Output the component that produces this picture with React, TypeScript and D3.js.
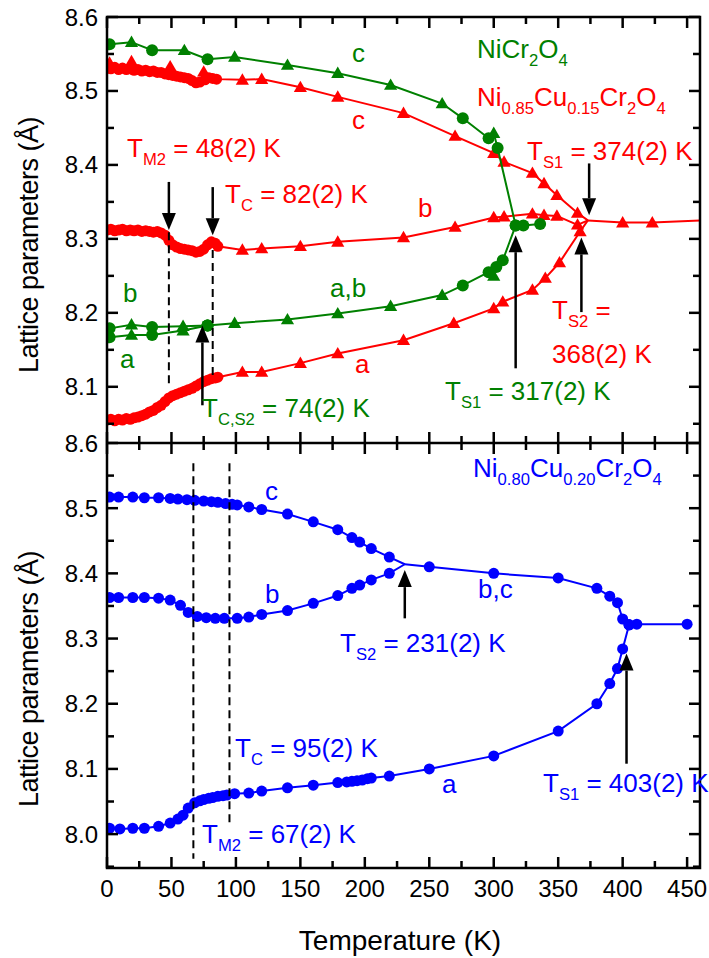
import * as d3 from 'd3';

// [temperature (K), lattice parameter (Å), marker: 'o' circle, '^' triangle, '' none]
type Pt = [number, number, string];

// ---------- NiCr2O4 (green) ----------
const niCrC: Pt[] = [
  [2, 8.563, 'o'], [19, 8.566, '^'], [35, 8.555, 'o'], [60, 8.555, '^'], [78, 8.543, 'o'],
  [99, 8.546, '^'], [140, 8.535, '^'], [179, 8.524, '^'], [220, 8.508, '^'], [260, 8.483, '^'],
  [276, 8.463, 'o'], [296, 8.436, 'o'], [300, 8.443, '^'], [303, 8.423, 'o'], [317, 8.318, ''],
];
const niCrAB: Pt[] = [
  [78, 8.183, 'o'], [99, 8.186, '^'], [140, 8.191, '^'], [179, 8.199, '^'], [220, 8.209, '^'],
  [260, 8.224, '^'], [276, 8.237, 'o'], [296, 8.255, 'o'], [300, 8.25, '^'], [302, 8.262, 'o'],
  [307, 8.271, 'o'], [317, 8.318, 'o'],
];
const niCrB: Pt[] = [[2, 8.179, 'o'], [19, 8.184, '^'], [35, 8.181, 'o'], [59, 8.182, '^'], [78, 8.183, 'o']];
const niCrA: Pt[] = [[2, 8.167, 'o'], [19, 8.17, '^'], [35, 8.17, 'o'], [59, 8.176, '^'], [78, 8.183, 'o']];
const niCrCubic: Pt[] = [[317, 8.318, 'o'], [323, 8.318, 'o'], [336, 8.32, 'o']];

// ---------- Ni0.85Cu0.15Cr2O4 (red) ----------
const cu15C: Pt[] = [
  [0, 8.531, 'o'], [2, 8.538, '^'], [3, 8.53, 'o'], [6, 8.532, 'o'], [9, 8.529, 'o'], [12, 8.531, 'o'],
  [15, 8.529, 'o'], [18, 8.53, 'o'], [19, 8.54, '^'], [21, 8.528, 'o'], [24, 8.529, 'o'], [27, 8.527, 'o'],
  [30, 8.528, 'o'], [33, 8.526, 'o'], [36, 8.527, 'o'], [39, 8.525, 'o'], [42, 8.525, 'o'], [45, 8.523, 'o'],
  [48, 8.522, 'o'], [49, 8.533, '^'], [51, 8.521, 'o'], [54, 8.52, 'o'], [57, 8.519, 'o'], [60, 8.518, 'o'],
  [63, 8.517, 'o'], [66, 8.514, 'o'], [69, 8.511, 'o'], [72, 8.512, 'o'], [75, 8.526, '^'], [76, 8.515, 'o'],
  [79, 8.518, 'o'], [82, 8.517, 'o'], [85, 8.516, 'o'],
  [105, 8.515, '^'], [120, 8.516, '^'], [150, 8.505, '^'], [179, 8.492, '^'], [230, 8.47, '^'],
  [270, 8.439, '^'], [300, 8.416, '^'], [308, 8.404, '^'], [330, 8.389, '^'], [339, 8.375, '^'],
  [349, 8.359, '^'], [365, 8.335, '^'], [373, 8.325, ''],
];
const cu15B: Pt[] = [
  [0, 8.312, 'o'], [3, 8.313, 'o'], [6, 8.311, 'o'], [9, 8.312, 'o'], [12, 8.313, 'o'], [15, 8.311, 'o'],
  [18, 8.312, 'o'], [21, 8.311, 'o'], [24, 8.312, 'o'], [27, 8.31, 'o'], [30, 8.311, 'o'], [33, 8.31, 'o'],
  [36, 8.309, 'o'], [39, 8.31, 'o'], [42, 8.308, 'o'], [45, 8.305, 'o'], [48, 8.298, 'o'], [51, 8.292, 'o'],
  [54, 8.289, 'o'], [57, 8.287, 'o'], [60, 8.286, 'o'], [63, 8.285, 'o'], [66, 8.284, 'o'], [69, 8.282, 'o'],
  [72, 8.283, 'o'], [75, 8.286, 'o'], [78, 8.292, 'o'], [81, 8.296, 'o'], [84, 8.294, 'o'], [86, 8.29, 'o'],
  [105, 8.285, '^'], [120, 8.287, '^'], [150, 8.29, '^'], [179, 8.296, '^'], [230, 8.302, '^'],
  [270, 8.316, '^'], [300, 8.329, '^'], [308, 8.33, '^'], [330, 8.334, '^'], [339, 8.332, '^'],
  [349, 8.331, '^'], [365, 8.319, '^'], [373, 8.325, ''],
];
const cu15A: Pt[] = [
  [0, 8.055, 'o'], [3, 8.056, 'o'], [6, 8.054, 'o'], [9, 8.056, 'o'], [12, 8.055, 'o'], [15, 8.057, 'o'],
  [18, 8.056, 'o'], [21, 8.058, 'o'], [24, 8.059, 'o'], [27, 8.061, 'o'], [30, 8.063, 'o'], [33, 8.066, 'o'],
  [36, 8.068, 'o'], [39, 8.072, 'o'], [42, 8.075, 'o'], [45, 8.08, 'o'], [48, 8.085, 'o'], [51, 8.088, 'o'],
  [54, 8.09, 'o'], [57, 8.092, 'o'], [60, 8.094, 'o'], [63, 8.096, 'o'], [66, 8.098, 'o'], [69, 8.101, 'o'],
  [72, 8.104, 'o'], [75, 8.107, 'o'], [78, 8.109, 'o'], [81, 8.111, 'o'], [84, 8.112, 'o'], [86, 8.113, 'o'],
  [105, 8.12, '^'], [120, 8.12, '^'], [150, 8.132, '^'], [179, 8.145, '^'], [230, 8.163, '^'],
  [269, 8.186, '^'], [300, 8.206, '^'], [307, 8.215, '^'], [330, 8.231, '^'], [340, 8.247, '^'],
  [351, 8.268, '^'], [367, 8.31, '^'], [373, 8.325, ''],
];
const cu15Cubic: Pt[] = [[373, 8.325, ''], [400, 8.322, '^'], [423, 8.322, '^'], [460, 8.325, '']];

// ---------- Ni0.80Cu0.20Cr2O4 (blue) ----------
const cu20C: Pt[] = [
  [2, 8.517, 'o'], [9, 8.517, 'o'], [20, 8.517, 'o'], [29, 8.516, 'o'], [40, 8.516, 'o'], [49, 8.515, 'o'],
  [55, 8.514, 'o'], [62, 8.513, 'o'], [68, 8.512, 'o'], [75, 8.511, 'o'], [81, 8.51, 'o'], [86, 8.509, 'o'],
  [92, 8.507, 'o'], [97, 8.506, 'o'], [101, 8.505, 'o'], [110, 8.502, 'o'], [120, 8.498, 'o'],
  [140, 8.491, 'o'], [160, 8.479, 'o'], [179, 8.467, 'o'], [190, 8.455, 'o'], [196, 8.448, 'o'],
  [205, 8.438, 'o'], [219, 8.425, 'o'], [231, 8.414, ''],
];
const cu20B: Pt[] = [
  [2, 8.363, 'o'], [9, 8.363, 'o'], [20, 8.363, 'o'], [29, 8.363, 'o'], [40, 8.362, 'o'], [49, 8.359, 'o'],
  [57, 8.351, 'o'], [63, 8.34, 'o'], [70, 8.334, 'o'], [77, 8.332, 'o'], [84, 8.331, 'o'], [91, 8.331, 'o'],
  [101, 8.331, 'o'], [110, 8.333, 'o'], [120, 8.337, 'o'], [140, 8.343, 'o'], [160, 8.354, 'o'],
  [179, 8.366, 'o'], [190, 8.377, 'o'], [196, 8.382, 'o'], [205, 8.39, 'o'], [219, 8.4, 'o'], [231, 8.414, ''],
];
const cu20BC: Pt[] = [
  [231, 8.414, ''], [250, 8.41, 'o'], [300, 8.4, 'o'], [350, 8.393, 'o'], [380, 8.377, 'o'],
  [390, 8.365, 'o'], [396, 8.355, 'o'], [400, 8.33, 'o'], [405, 8.321, 'o'],
];
const cu20A: Pt[] = [
  [2, 8.009, 'o'], [10, 8.008, 'o'], [20, 8.009, 'o'], [29, 8.009, 'o'], [40, 8.012, 'o'], [49, 8.017, 'o'],
  [55, 8.023, 'o'], [59, 8.029, 'o'], [63, 8.04, 'o'], [68, 8.048, 'o'], [72, 8.051, 'o'], [75, 8.053, 'o'],
  [79, 8.055, 'o'], [82, 8.056, 'o'], [86, 8.058, 'o'], [90, 8.059, 'o'], [93, 8.06, 'o'], [99, 8.062, 'o'],
  [110, 8.063, 'o'], [120, 8.066, 'o'], [140, 8.071, 'o'], [160, 8.075, 'o'], [179, 8.079, 'o'],
  [186, 8.08, 'o'], [190, 8.081, 'o'], [194, 8.082, 'o'], [198, 8.083, 'o'], [202, 8.085, 'o'],
  [205, 8.086, 'o'], [219, 8.089, 'o'], [250, 8.1, 'o'], [300, 8.12, 'o'], [350, 8.158, 'o'],
  [380, 8.2, 'o'], [390, 8.231, 'o'], [396, 8.254, 'o'], [400, 8.284, 'o'], [405, 8.321, 'o'],
];
const cu20Cubic: Pt[] = [[405, 8.321, 'o'], [411, 8.322, 'o'], [450, 8.322, 'o']];

// transition arrows: [T, tail value, tip value]
const topArrows: [number, number, number][] = [
  [48, 8.377, 8.312], [82, 8.37, 8.305], [74, 8.075, 8.183],
  [374, 8.402, 8.332], [368, 8.201, 8.302], [317, 8.125, 8.305],
];
const botArrows: [number, number, number][] = [[231, 8.331, 8.405], [403, 8.108, 8.277]];
// dashed guide lines: [T, from, to]
const topDashes: [number, number, number][] = [[48, 8.309, 8.102], [82, 8.285, 8.113]];
const botDashes: [number, number, number][] = [[67, 8.569, 7.962], [95, 8.569, 8.017]];

const xTicks = d3.range(0, 451, 50);
const xMinor = d3.range(25, 451, 50);
const topTicks = d3.range(81, 87).map(d => d / 10);
const topMinor = d3.range(805, 860, 10).map(d => d / 100);
const botTicks = d3.range(80, 87).map(d => d / 10);
const botMinor = d3.range(795, 860, 10).map(d => d / 100);

const FONT = '"Liberation Sans", Arial, Helvetica, sans-serif';
const GREEN = '#008000';
const RED = '#ff0000';
const BLUE = '#0000ff';
const L = 107, R = 700, T0 = 17, MID = 443, B = 868;

const x = d3.scaleLinear().domain([0, 460]).range([L, R]);
const yTop = d3.scaleLinear().domain([8.024, 8.6]).range([MID, T0]);
const yBot = d3.scaleLinear().domain([7.948, 8.6]).range([B, MID]);

const tri = d3.symbol(d3.symbolTriangle, 75)();

function Series({ pts, y, color, r = 6 }: { pts: Pt[]; y: d3.ScaleLinear<number, number>; color: string; r?: number }) {
  const line = d3.line<Pt>().x(d => x(d[0])).y(d => y(d[1]));
  return (
    <g>
      <path d={line(pts) || ''} fill="none" stroke={color} strokeWidth={2} />
      {pts.map((d, i) =>
        d[2] === 'o' ? <circle key={i} cx={x(d[0])} cy={y(d[1])} r={r} fill={color} />
          : d[2] === '^' ? <path key={i} d={tri || ''} transform={`translate(${x(d[0])},${y(d[1]) + 1})`} fill={color} />
            : null)}
    </g>
  );
}

function Arrow({ t, v0, v1, y }: { t: number; v0: number; v1: number; y: d3.ScaleLinear<number, number> }) {
  const px = x(t), a = y(v0), b = y(v1);
  const dir = b > a ? 1 : -1;
  const hl = 17, hw = 7;
  return (
    <g>
      <line x1={px} y1={a} x2={px} y2={b - dir * hl} stroke="#000" strokeWidth={2.5} />
      <path d={`M${px},${b} L${px - hw},${b - dir * hl} L${px + hw},${b - dir * hl} Z`} fill="#000" />
    </g>
  );
}

function Rich({ x: px, y: py, s, fill, size = 26 }: { x: number; y: number; s: string; fill: string; size?: number }) {
  const parts = s.split(/(_\{[^}]*\})/).filter(p => p.length);
  const shift = size * 0.3;
  let down = false;
  return (
    <text x={px} y={py} fill={fill} fontSize={size} fontFamily={FONT}>
      {parts.map((p, i) => {
        const sub = p.startsWith('_{');
        let dy = 0;
        if (sub && !down) { dy = shift; down = true; } else if (!sub && down) { dy = -shift; down = false; }
        return <tspan key={i} dy={dy} fontSize={sub ? size * 0.64 : size}>{sub ? p.slice(2, -1) : p}</tspan>;
      })}
    </text>
  );
}

function YAxis({ y, major, minor, labels }: { y: d3.ScaleLinear<number, number>; major: number[]; minor: number[]; labels: number[] }) {
  return (
    <g stroke="#000" strokeWidth={2.5}>
      {major.map(v => <g key={'M' + v}><line x1={L} x2={L + 11} y1={y(v)} y2={y(v)} /><line x1={R} x2={R - 11} y1={y(v)} y2={y(v)} /></g>)}
      {minor.map(v => <g key={'m' + v}><line x1={L} x2={L + 7} y1={y(v)} y2={y(v)} /><line x1={R} x2={R - 7} y1={y(v)} y2={y(v)} /></g>)}
      {labels.map(v => (
        <text key={'t' + v} x={L - 9} y={y(v) + 8.5} textAnchor="end" fontSize={24} fontFamily={FONT} fill="#000" stroke="none">
          {d3.format('.1f')(v)}
        </text>
      ))}
    </g>
  );
}

export default function App() {
  return (
    <svg width={709} height={958} style={{ position: 'absolute', left: 0, top: 0, background: '#fff' }}>
      <defs>
        <clipPath id="cTop"><rect x={L} y={T0} width={R - L} height={MID - T0} /></clipPath>
        <clipPath id="cBot"><rect x={L} y={MID} width={R - L} height={B - MID} /></clipPath>
      </defs>

      {/* top panel data */}
      <g clipPath="url(#cTop)">
        <Series pts={cu15C} y={yTop} color={RED} r={5.5} />
        <Series pts={cu15B} y={yTop} color={RED} r={5.5} />
        <Series pts={cu15A} y={yTop} color={RED} r={5.5} />
        <Series pts={cu15Cubic} y={yTop} color={RED} />
        <Series pts={niCrC} y={yTop} color={GREEN} />
        <Series pts={niCrAB} y={yTop} color={GREEN} />
        <Series pts={niCrB} y={yTop} color={GREEN} />
        <Series pts={niCrA} y={yTop} color={GREEN} />
        <Series pts={niCrCubic} y={yTop} color={GREEN} />
      </g>

      {/* bottom panel data */}
      <g clipPath="url(#cBot)">
        <Series pts={cu20C} y={yBot} color={BLUE} r={5.5} />
        <Series pts={cu20B} y={yBot} color={BLUE} r={5.5} />
        <Series pts={cu20BC} y={yBot} color={BLUE} r={5.5} />
        <Series pts={cu20A} y={yBot} color={BLUE} r={5.5} />
        <Series pts={cu20Cubic} y={yBot} color={BLUE} r={5.5} />
      </g>

      {/* dashed guides */}
      <g stroke="#000" strokeWidth={2} strokeDasharray="8,5">
        {topDashes.map(([t, a, b]) => <line key={'td' + t} x1={x(t)} x2={x(t)} y1={yTop(a)} y2={yTop(b)} />)}
        {botDashes.map(([t, a, b]) => <line key={'bd' + t} x1={x(t)} x2={x(t)} y1={yBot(a)} y2={yBot(b)} />)}
      </g>

      {topArrows.map(([t, a, b]) => <Arrow key={'ta' + t} t={t} v0={a} v1={b} y={yTop} />)}
      {botArrows.map(([t, a, b]) => <Arrow key={'ba' + t} t={t} v0={a} v1={b} y={yBot} />)}

      {/* axes */}
      <YAxis y={yTop} major={topTicks} minor={topMinor} labels={topTicks} />
      <YAxis y={yBot} major={botTicks} minor={botMinor} labels={botTicks} />
      <g stroke="#000" strokeWidth={2.5}>
        {xTicks.map(t => (
          <g key={'x' + t}>
            <line x1={x(t)} x2={x(t)} y1={T0} y2={T0 + 11} />
            <line x1={x(t)} x2={x(t)} y1={MID - 11} y2={MID + 11} />
            <line x1={x(t)} x2={x(t)} y1={B} y2={B - 11} />
          </g>
        ))}
        {xMinor.map(t => (
          <g key={'xm' + t}>
            <line x1={x(t)} x2={x(t)} y1={T0} y2={T0 + 7} />
            <line x1={x(t)} x2={x(t)} y1={MID - 7} y2={MID + 7} />
            <line x1={x(t)} x2={x(t)} y1={B} y2={B - 7} />
          </g>
        ))}
        <rect x={L} y={T0} width={R - L} height={B - T0} fill="none" />
        <line x1={L} x2={R} y1={MID} y2={MID} />
      </g>
      {xTicks.map(t => (
        <text key={'xl' + t} x={x(t)} y={B + 29} textAnchor="middle" fontSize={24} fontFamily={FONT}>{t}</text>
      ))}
      <text x={400} y={950} textAnchor="middle" fontSize={28} fontFamily={FONT}>Temperature (K)</text>
      <text transform="translate(38,245) rotate(-90)" textAnchor="middle" fontSize={27} fontFamily={FONT} letterSpacing={-0.5}>Lattice parameters (Å)</text>
      <text transform="translate(38,679) rotate(-90)" textAnchor="middle" fontSize={27} fontFamily={FONT} letterSpacing={-0.5}>Lattice parameters (Å)</text>

      {/* top annotations */}
      <Rich x={352} y={62} s="c" fill={GREEN} />
      <Rich x={352} y={129} s="c" fill={RED} />
      <Rich x={477} y={58} s="NiCr_{2}O_{4}" fill={GREEN} />
      <Rich x={477} y={106} s="Ni_{0.85}Cu_{0.15}Cr_{2}O_{4}" fill={RED} />
      <Rich x={127} y={157} s="T_{M2} = 48(2) K" fill={RED} />
      <Rich x={225} y={203} s="T_{C} = 82(2) K" fill={RED} />
      <Rich x={527} y={160} s="T_{S1} = 374(2) K" fill={RED} />
      <Rich x={418} y={217} s="b" fill={RED} />
      <Rich x={123} y={302} s="b" fill={GREEN} />
      <Rich x={120} y={368} s="a" fill={GREEN} />
      <Rich x={330} y={297} s="a,b" fill={GREEN} />
      <Rich x={355} y={373} s="a" fill={RED} />
      <Rich x={202} y={417} s="T_{C,S2} = 74(2) K" fill={GREEN} />
      <Rich x={552} y={319} s="T_{S2} =" fill={RED} />
      <Rich x={552} y={363} s="368(2) K" fill={RED} />
      <Rich x={445} y={400} s="T_{S1} = 317(2) K" fill={GREEN} />

      {/* bottom annotations */}
      <Rich x={473} y={477} s="Ni_{0.80}Cu_{0.20}Cr_{2}O_{4}" fill={BLUE} />
      <Rich x={265} y={500} s="c" fill={BLUE} />
      <Rich x={265} y={603} s="b" fill={BLUE} />
      <Rich x={340} y={652} s="T_{S2} = 231(2) K" fill={BLUE} />
      <Rich x={478} y={598} s="b,c" fill={BLUE} />
      <Rich x={235} y={757} s="T_{C} = 95(2) K" fill={BLUE} />
      <Rich x={202} y={843} s="T_{M2} = 67(2) K" fill={BLUE} />
      <Rich x={442} y={793} s="a" fill={BLUE} />
      <Rich x={543} y={792} s="T_{S1} = 403(2) K" fill={BLUE} />
    </svg>
  );
}
